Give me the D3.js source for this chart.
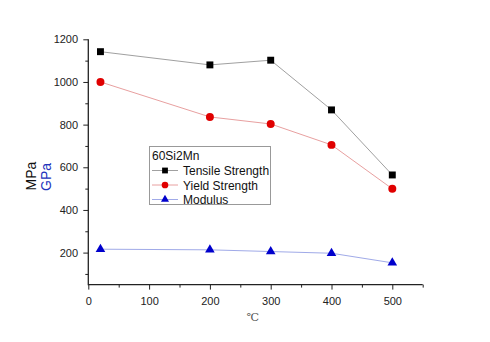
<!DOCTYPE html>
<html><head><meta charset="utf-8">
<script src="https://cdn.jsdelivr.net/npm/d3@7"></script>
<style>body{margin:0;background:#fff}svg{display:block}text{font-family:"Liberation Sans",Arial,sans-serif}</style>
</head><body>
<svg id="c" width="490" height="342"></svg>
<script>
const temps = [20, 200, 300, 400, 500];
const tensile = [1142, 1080, 1102, 869, 564];
const yieldS = [1000, 836, 803, 705, 499];
const modulus = [216, 213, 205, 197, 152];
const seriesNames = ["Tensile Strength", "Yield Strength", "Modulus"];
const legendTitle = "60Si2Mn";
const xTicks = [0, 100, 200, 300, 400, 500];
const yTicks = [200, 400, 600, 800, 1000, 1200];

const svg = d3.select("#c");
const x = d3.scaleLinear().domain([0, 550]).range([88.3, 422.7]);
const y = d3.scaleLinear().domain([50, 1200]).range([284.6, 39.3]);

const xAxis = d3.axisBottom(x).tickValues(xTicks).tickSize(5).tickFormat(d3.format("d"));
const xMinor = d3.axisBottom(x).tickValues([50,150,250,350,450,550]).tickSize(3).tickFormat("");
const yAxis = d3.axisLeft(y).tickValues(yTicks).tickSize(5).tickFormat(d3.format("d"));
const yMinor = d3.axisLeft(y).tickValues([100,300,500,700,900,1100]).tickSize(3).tickFormat("");

function style(g){
  g.select(".domain").remove();
  g.selectAll(".tick line").attr("stroke","#222").attr("stroke-width",1);
  g.selectAll(".tick text").attr("fill","#222").style("font-size","11px");
}
svg.append("g").attr("transform",`translate(0,${y(50)})`).call(xMinor).call(style);
svg.append("g").attr("transform",`translate(0,${y(50)})`).call(xAxis).call(style).selectAll(".tick text").attr("dy","1.1em");
svg.append("g").attr("transform",`translate(${x(0)},0)`).call(yMinor).call(style);
svg.append("g").attr("transform",`translate(${x(0)},0)`).call(yAxis).call(style).selectAll(".tick text").attr("dx","-0.2em");

svg.append("line").attr("x1",x(0)).attr("x2",x(0)).attr("y1",y(1200)).attr("y2",y(50)+0.6).attr("stroke","#222").attr("stroke-width",1.3);
svg.append("line").attr("x1",x(0)).attr("x2",x(550)).attr("y1",y(50)).attr("y2",y(50)).attr("stroke","#222").attr("stroke-width",1.3);

svg.append("text").attr("transform","translate(35.5,176) rotate(-90)").attr("text-anchor","middle").style("font-size","14px").attr("fill","#111").text("MPa");
svg.append("text").attr("transform","translate(51,177) rotate(-90)").attr("text-anchor","middle").style("font-size","14px").attr("fill","#2233bb").text("GPa");
svg.append("text").attr("x",253).attr("y",321).attr("text-anchor","middle").style("font-family","'Liberation Serif','DejaVu Serif',serif").style("font-size","11px").attr("fill","#555").text("℃");

const series = [
  {name:seriesNames[0], vals:tensile, line:"#a0a0a0", color:"#000", shape:d3.symbolSquare, size:48},
  {name:seriesNames[1], vals:yieldS, line:"#e8a0a0", color:"#e00000", shape:d3.symbolCircle, size:50},
  {name:seriesNames[2], vals:modulus, line:"#a0aae8", color:"#0000cc", shape:d3.symbolTriangle, size:40}
];
const line = d3.line().x(d=>x(d[0])).y(d=>y(d[1]));
series.forEach(s=>{
  const pts = temps.map((t,i)=>[t,s.vals[i]]);
  svg.append("path").attr("d",line(pts)).attr("fill","none").attr("stroke",s.line).attr("stroke-width",1);
  svg.selectAll(null).data(pts).enter().append("path")
    .attr("d",d3.symbol().type(s.shape).size(s.size))
    .attr("transform",d=>`translate(${x(d[0])},${y(d[1])})`)
    .attr("fill",s.color);
});

const lg = svg.append("g");
lg.append("rect").attr("x",149.5).attr("y",146.5).attr("width",121).attr("height",58).attr("fill","#fff").attr("stroke","#999").attr("stroke-width",1);
lg.append("text").attr("x",152).attr("y",160).style("font-size","12px").attr("fill","#111").text(legendTitle);
series.forEach((s,i)=>{
  const yy = 170.5 + i*14.5;
  lg.append("line").attr("x1",152).attr("x2",178).attr("y1",yy).attr("y2",yy).attr("stroke",s.line).attr("stroke-width",1);
  lg.append("path").attr("d",d3.symbol().type(s.shape).size(s.size*0.7)).attr("transform",`translate(165,${yy})`).attr("fill",s.color);
  lg.append("text").attr("x",183).attr("y",yy+4.5).style("font-size","12px").attr("fill","#111").text(s.name);
});
</script>
</body></html>
